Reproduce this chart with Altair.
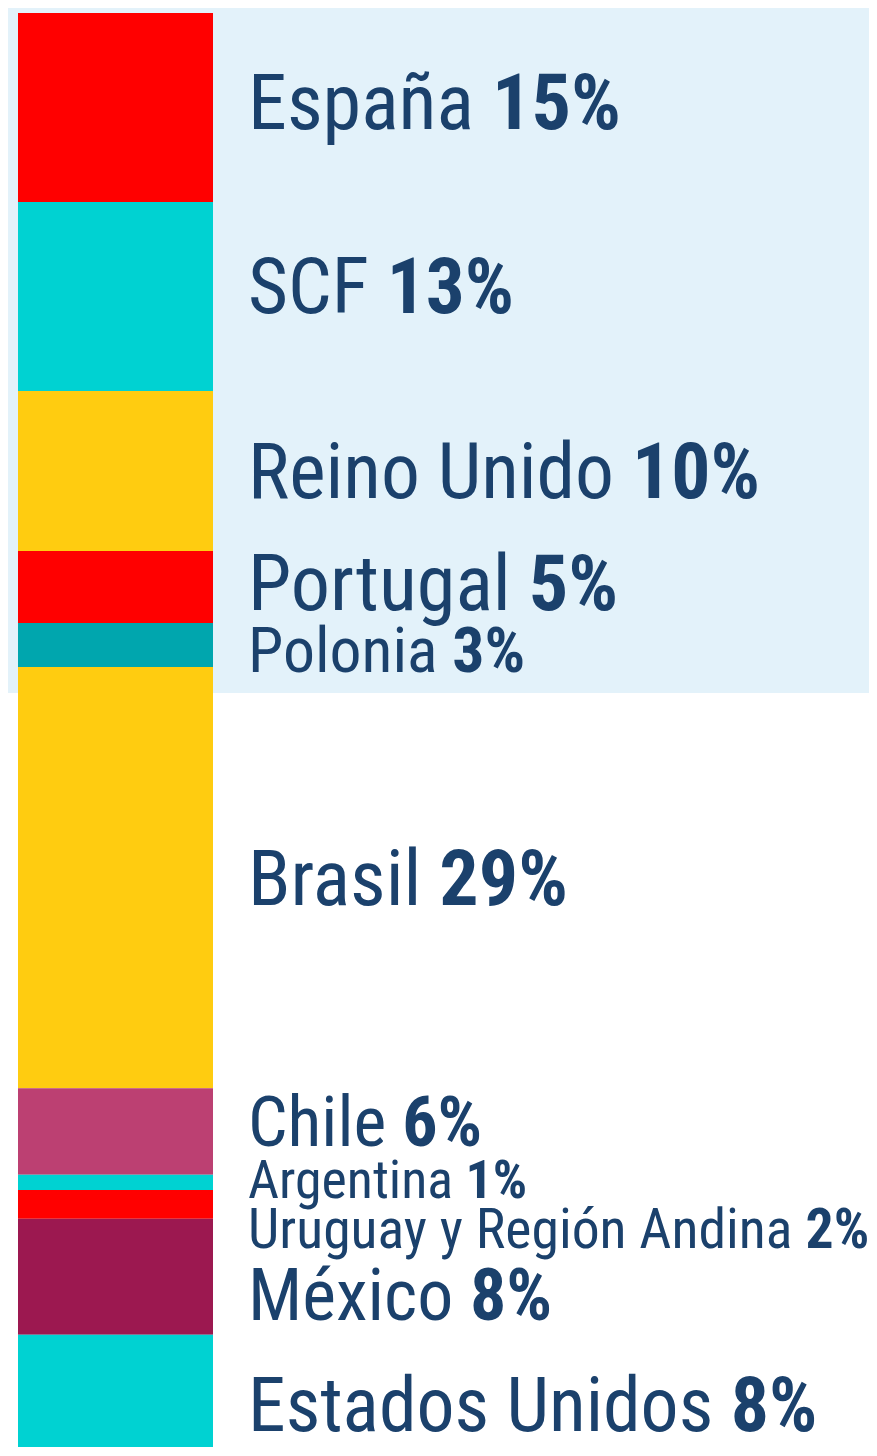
import glob
import altair as alt
import pandas as pd

# ---------------- data ----------------
regions = ["España", "SCF", "Reino Unido", "Portugal", "Polonia", "Brasil",
           "Chile", "Argentina", "Uruguay y Región Andina", "México", "Estados Unidos"]
pct_labels = ["15%", "13%", "10%", "5%", "3%", "29%", "6%", "1%", "2%", "8%", "8%"]
bar_share = [13.1, 13.1, 11.1, 5.0, 3.05, 29.2, 6.0, 1.05, 2.0, 8.05, 8.4]
group = ["Europa"] * 5 + ["América"] * 6

# ---------------- styles / layout ----------------
seg_colors = ["#FF0000", "#00D2D2", "#FFCC10", "#FF0000", "#00A6AE", "#FFCC10",
              "#BC4072", "#00D2D2", "#FF0000", "#9C1850", "#00D2D2"]
TEXT = "#1b416c"
PANEL = "#E3F2FA"
FONT = "Roboto Condensed"
label_width = [373, 266, 512, 370, 277, 320, 234, 279, 621, 304, 569]   # label span, px
label_dy = [21.5, 17, 27, 23, 27, 27.5, 14.5, 15.8, 43.8, 43, 35.5]     # baseline nudge, px
LABEL_LEFT = 230
BAR_W = 195
W = 851          # plot width (svg stays within the page body, no shrinking)
H = 1434         # visible plot height (page stays inside the window, no scrollbars)
Y_RANGE = 1443   # pixel length of the full bar (runs past the bottom edge)

# ---------------- text measurement ----------------
def load_fonts():
    from PIL import ImageFont
    files = glob.glob("/usr/share/fonts/**/*RobotoCondensed*", recursive=True) + \
        glob.glob("/usr/local/share/fonts/**/*RobotoCondensed*", recursive=True)
    files = [f for f in files if f.lower().endswith((".ttf", ".otf")) and "italic" not in f.lower()]
    reg = [f for f in files if "-Regular" in f]
    bold = [f for f in files if "-Bold." in f]
    var = [f for f in files if "wght" in f]
    if reg and bold:
        return ImageFont.truetype(reg[0], 100), ImageFont.truetype(bold[0], 100)
    if var:
        r = ImageFont.truetype(var[0], 100)
        b = ImageFont.truetype(var[0], 100)
        try:
            r.set_variation_by_axes([400])
            b.set_variation_by_axes([700])
        except Exception:
            pass
        return r, b
    raise RuntimeError("no font")

try:
    f_reg, f_bold = load_fonts()
    def m_space(name):
        return f_reg.getlength(name + " ")
    def m_lsb(name):
        return f_reg.getbbox(name)[0]
    def m_pct(p):
        return f_bold.getbbox(p)[2]
except Exception:
    def m_space(name):
        return 48 * (len(name) + 1)
    def m_lsb(name):
        return 6
    def m_pct(p):
        return 55 * len(p)

rows = []
cum = 0.0
for i, (r, p, s, g) in enumerate(zip(regions, pct_labels, bar_share, group)):
    y0 = cum
    cum += s
    span100 = m_space(r) + m_pct(p) - m_lsb(r)
    fs = label_width[i] / span100 * 100
    x_name = LABEL_LEFT - m_lsb(r) * fs / 100
    x_pct = x_name + m_space(r) * fs / 100
    rows.append({"idx": i, "region": r, "pct": p, "share": s, "group": g,
                 "y0": y0, "y1": cum, "mid": (y0 + cum) / 2,
                 "fs": fs, "x_name": x_name, "x_pct": x_pct})
df = pd.DataFrame(rows)
total = cum
europe_total = df.loc[df.group == "Europa", "share"].sum()

yscale = alt.Scale(domain=[0, total], range=[0, Y_RANGE], nice=False, zero=True)

panel_df = pd.DataFrame({"p0": [0.0], "p1": [europe_total]})
panel = alt.Chart(panel_df).mark_rect(color=PANEL, yOffset=-5, y2Offset=26).encode(
    x=alt.value(-10), x2=alt.value(W),
    y=alt.Y("p0:Q", scale=yscale, axis=None), y2="p1:Q")

bars = alt.Chart(df).mark_rect().encode(
    x=alt.value(0), x2=alt.value(BAR_W),
    y=alt.Y("y0:Q", scale=yscale, axis=None), y2="y1:Q",
    color=alt.Color("region:N", scale=alt.Scale(domain=regions, range=seg_colors), legend=None))

texts = []
for i, row in df.iterrows():
    sub = df[df.idx == row.idx]
    texts.append(alt.Chart(sub).mark_text(
        align="left", baseline="alphabetic", font=FONT, fontSize=float(row.fs),
        fontWeight="normal", color=TEXT, dy=label_dy[i]).encode(
        x=alt.value(float(row.x_name)), y=alt.Y("mid:Q", scale=yscale, axis=None), text="region:N"))
    texts.append(alt.Chart(sub).mark_text(
        align="left", baseline="alphabetic", font=FONT, fontSize=float(row.fs),
        fontWeight="bold", color=TEXT, dy=label_dy[i]).encode(
        x=alt.value(float(row.x_pct)), y=alt.Y("mid:Q", scale=yscale, axis=None), text="pct:N"))

chart = alt.layer(panel, bars, *texts).properties(
    width=W, height=H,
    padding={"left": 10, "top": 5, "right": 0, "bottom": 0},
    autosize=alt.AutoSizeParams(type="none"),
).configure_view(stroke=None)

chart.save("out.html", embed_options={"renderer": "svg", "actions": False})
